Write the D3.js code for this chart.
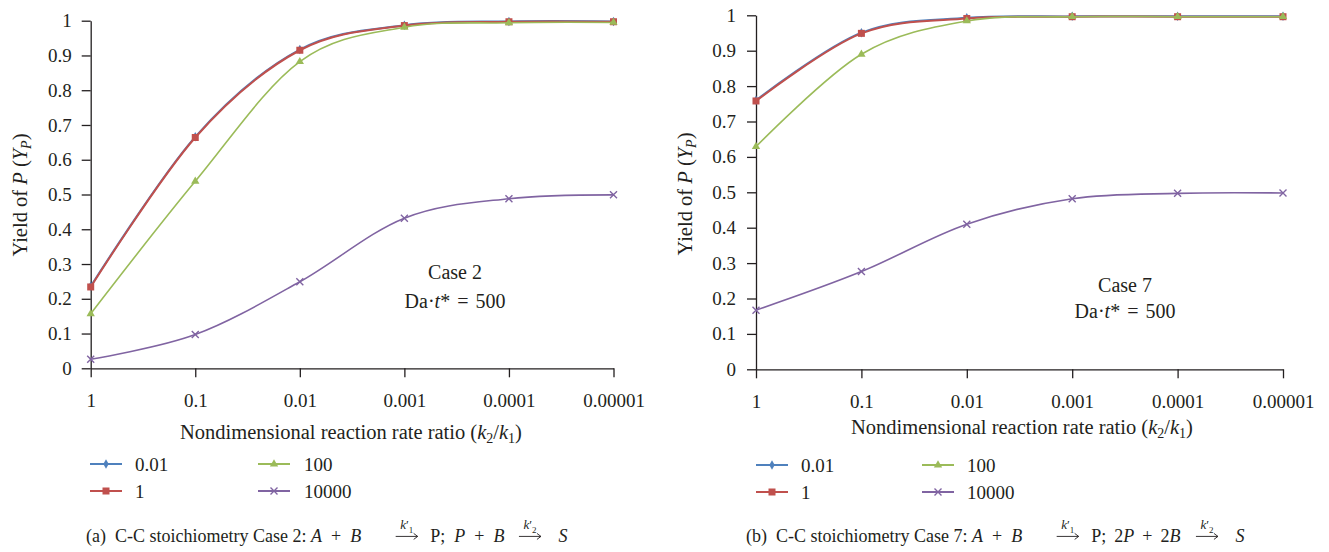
<!DOCTYPE html>
<html>
<head>
<meta charset="utf-8">
<script src="https://cdn.jsdelivr.net/npm/d3@7"></script>
<style>
  body { margin: 0; background: #fff; }
  svg text { font-family: "Liberation Serif", "DejaVu Serif", serif; fill: #231f20; white-space: pre; }
</style>
</head>
<body>
<svg id="chart" width="1329" height="552"></svg>
<script>
// ---- data ----
const categories = ["1", "0.1", "0.01", "0.001", "0.0001", "0.00001"];
const seriesNames = ["0.01", "1", "100", "10000"];
const yTickValues = [0, 0.1, 0.2, 0.3, 0.4, 0.5, 0.6, 0.7, 0.8, 0.9, 1];
const yTickLabels = ["0", "0.1", "0.2", "0.3", "0.4", "0.5", "0.6", "0.7", "0.8", "0.9", "1"];

// Case 2: A + B -> P; P + B -> S
const case2Da0_01 = [0.236, 0.666, 0.917, 0.987, 0.998, 0.998];
const case2Da1 = [0.234, 0.664, 0.915, 0.986, 0.997, 0.997];
const case2Da100 = [0.157, 0.538, 0.882, 0.981, 0.994, 0.995];
const case2Da10000 = [0.026, 0.097, 0.249, 0.432, 0.488, 0.499];

// Case 7: A + B -> P; 2P + 2B -> S
const case7Da0_01 = [0.760, 0.951, 0.993, 0.997, 0.997, 0.997];
const case7Da1 = [0.758, 0.949, 0.991, 0.996, 0.996, 0.996];
const case7Da100 = [0.629, 0.890, 0.984, 0.996, 0.996, 0.996];
const case7Da10000 = [0.167, 0.276, 0.410, 0.482, 0.497, 0.498];

// ---- styles ----
const INK = "#231f20";
const seriesStyle = [
  { color: "#4F81BD", marker: "diamond", width: 2 },
  { color: "#C0504D", marker: "square", width: 2 },
  { color: "#9BBB59", marker: "triangle", width: 1.6 },
  { color: "#8064A2", marker: "cross", width: 1.6 }
];

const svg = d3.select("#chart");

function drawMarker(g, type, x, y, color) {
  if (type === "square") {
    g.append("rect").attr("x", x - 3.5).attr("y", y - 3.5)
      .attr("width", 7).attr("height", 7).attr("fill", color);
  } else if (type === "diamond") {
    g.append("path").attr("d", d3.symbol(d3.symbolDiamond, 26)())
      .attr("transform", `translate(${x},${y})`).attr("fill", color);
  } else if (type === "triangle") {
    g.append("path").attr("d", d3.symbol(d3.symbolTriangle, 30)())
      .attr("transform", `translate(${x},${y})`).attr("fill", color);
  } else {
    g.append("path").attr("d", "M-3.5,-3.5L3.5,3.5M-3.5,3.5L3.5,-3.5")
      .attr("transform", `translate(${x},${y})`)
      .attr("stroke", color).attr("stroke-width", 1.4).attr("fill", "none");
  }
}

// caption line: one text element; each reaction arrow carries a raised k' label
function caption(g, x, y, parts, size) {
  const t = g.append("text").attr("x", x).attr("y", y).attr("font-size", size);
  const arrows = [];
  let pend = null;
  parts.forEach(p => {
    if (p.arrow) {
      const pad = (p.arrow.len - 12) / 2;
      const k = t.append("tspan").attr("dx", p.arrow.before + pad).attr("dy", -13)
        .attr("font-size", size * 0.72).attr("font-style", "italic").text("k");
      t.append("tspan").attr("font-size", size * 0.72).text("\u2032");
      const s = t.append("tspan").attr("dy", 4).attr("font-size", size * 0.5).text(p.sub);
      arrows.push([k, s, p.arrow.len]);
      pend = { dx: pad + p.arrow.after, dy: 9 };
    } else {
      const s = t.append("tspan").attr("font-style", p.i ? "italic" : "normal").text(p.t);
      let dx = p.dx || 0, dy = 0;
      if (pend) { dx += pend.dx; dy = pend.dy; pend = null; }
      if (dx) s.attr("dx", dx);
      if (dy) s.attr("dy", dy);
    }
  });
  const ay = y - size * 0.31;
  arrows.forEach(([k, s, len]) => {
    const a = k.node().getStartPositionOfChar(0).x;
    const b = s.node().getEndPositionOfChar(0).x;
    const mid = (a + b) / 2;
    const x1 = mid - len / 2, x2 = mid + len / 2;
    g.append("line").attr("x1", x1).attr("x2", x2).attr("y1", ay).attr("y2", ay)
      .attr("stroke", INK).attr("stroke-width", 0.9);
    g.append("path").attr("d", `M${x2 - 4},${ay - 3}L${x2},${ay}L${x2 - 4},${ay + 3}`)
      .attr("fill", "none").attr("stroke", INK).attr("stroke-width", 0.9);
  });
}

function drawPanel(p) {
  const x = d3.scalePoint().domain(categories).range([p.x0, p.x1]);
  const y = d3.scaleLinear().domain([0, 1]).range([p.yBot, p.yTop]);
  const g = svg.append("g");

  const ya = g.append("g").attr("transform", `translate(${p.x0},0)`)
    .call(d3.axisLeft(y).tickValues(yTickValues).tickFormat((d, i) => yTickLabels[i])
      .tickSize(9).tickSizeOuter(0).tickPadding(p.yPad));
  const xa = g.append("g").attr("transform", `translate(0,${p.yBot})`)
    .call(d3.axisBottom(x).tickSize(9).tickSizeOuter(0).tickPadding(16));
  [ya, xa].forEach(a => {
    a.attr("font-size", 19).attr("font-family", null);
    a.selectAll("path, line").attr("stroke", INK).attr("stroke-width", 1.3);
    a.selectAll("text").attr("fill", INK);
  });

  // axis titles
  const yt = g.append("text").attr("transform", `translate(${p.yTitle[0]},${p.yTitle[1]}) rotate(-90)`)
    .attr("text-anchor", "middle").attr("font-size", 20.5);
  yt.append("tspan").text("Yield of ");
  yt.append("tspan").attr("font-style", "italic").text("P");
  yt.append("tspan").text(" (");
  yt.append("tspan").attr("font-style", "italic").text("Y");
  yt.append("tspan").attr("font-style", "italic").attr("font-size", 14).attr("dy", 4).text("P");
  yt.append("tspan").attr("dy", -4).text(")");

  const xt = g.append("text").attr("x", p.xTitle[0]).attr("y", p.xTitle[1])
    .attr("text-anchor", "middle").attr("font-size", 20.5);
  xt.append("tspan").text("Nondimensional reaction rate ratio (");
  xt.append("tspan").attr("font-style", "italic").text("k");
  xt.append("tspan").attr("font-size", 14).attr("dy", 4).text("2");
  xt.append("tspan").attr("dy", -4).text("/");
  xt.append("tspan").attr("font-style", "italic").text("k");
  xt.append("tspan").attr("font-size", 14).attr("dy", 4).text("1");
  xt.append("tspan").attr("dy", -4).text(")");

  // series
  const line = d3.line().x((d, i) => x(categories[i])).y(d => y(d))
    .curve(d3.curveCardinal.tension(0));
  p.series.forEach((vals, si) => {
    const st = seriesStyle[si];
    g.append("path").datum(vals).attr("d", line).attr("fill", "none")
      .attr("stroke", st.color).attr("stroke-width", st.width);
    vals.forEach((v, i) => drawMarker(g, st.marker, x(categories[i]), y(v), st.color));
  });

  // annotation
  g.append("text").attr("x", p.note[0]).attr("y", p.note[1]).attr("text-anchor", "middle")
    .attr("font-size", 20).text(p.caseLabel);
  const da = g.append("text").attr("x", p.note[0]).attr("y", p.note[2]).attr("text-anchor", "middle")
    .attr("font-size", 20);
  da.append("tspan").text("Da\u00B7");
  da.append("tspan").attr("font-style", "italic").text("t");
  da.append("tspan").text("*");
  da.append("tspan").attr("dx", 7).text("=");
  da.append("tspan").attr("dx", 7).text("500");

  // legend
  seriesNames.forEach((name, si) => {
    const st = seriesStyle[si];
    const col = si < 2 ? 0 : 1, row = si % 2;
    const lx = p.legend.cols[col], ly = p.legend.rows[row];
    g.append("line").attr("x1", lx[0]).attr("x2", lx[1]).attr("y1", ly).attr("y2", ly)
      .attr("stroke", st.color).attr("stroke-width", 2);
    drawMarker(g, st.marker, (lx[0] + lx[1]) / 2, ly, st.color);
    g.append("text").attr("x", lx[2]).attr("y", ly + 6.5).attr("font-size", 19).text(name);
  });

  caption(g, p.caption[0], p.caption[1], p.captionParts, 18);
}

drawPanel({
  x0: 90.7, x1: 613.5, yTop: 20.7, yBot: 368.3, yPad: 10,
  yTitle: [27, 195], xTitle: [351, 439],
  series: [case2Da0_01, case2Da1, case2Da100, case2Da10000],
  caseLabel: "Case 2", note: [455, 279, 308],
  legend: { rows: [464, 491], cols: [[90, 122, 135], [258, 290, 304]] },
  caption: [86, 542],
  captionParts: [
    { t: "(a)  C-C stoichiometry Case 2: " }, { t: "A", i: 1 }, { t: "+", dx: 9 }, { t: "B", i: 1, dx: 9 },
    { arrow: { before: 34, len: 22, after: 12 }, sub: "1" }, { t: "P;" },
    { t: "P", i: 1, dx: 9 }, { t: "+", dx: 9 }, { t: "B", i: 1, dx: 9 },
    { arrow: { before: 14, len: 22, after: 17 }, sub: "2" }, { t: "S", i: 1 }
  ]
});

drawPanel({
  x0: 756, x1: 1283, yTop: 15.3, yBot: 369.3, yPad: 11,
  yTitle: [692, 194], xTitle: [1022, 434],
  series: [case7Da0_01, case7Da1, case7Da100, case7Da10000],
  caseLabel: "Case 7", note: [1125, 292, 318],
  legend: { rows: [465, 492], cols: [[756, 788, 801], [922, 954, 967]] },
  caption: [746, 542],
  captionParts: [
    { t: "(b)  C-C stoichiometry Case 7: " }, { t: "A", i: 1 }, { t: "+", dx: 9 }, { t: "B", i: 1, dx: 9 },
    { arrow: { before: 34, len: 22, after: 12 }, sub: "1" }, { t: "P;" },
    { t: "2", dx: 8 }, { t: "P", i: 1 }, { t: "+", dx: 8 }, { t: "2", dx: 8 }, { t: "B", i: 1 },
    { arrow: { before: 15, len: 22, after: 17 }, sub: "2" }, { t: "S", i: 1 }
  ]
});
</script>
</body>
</html>
